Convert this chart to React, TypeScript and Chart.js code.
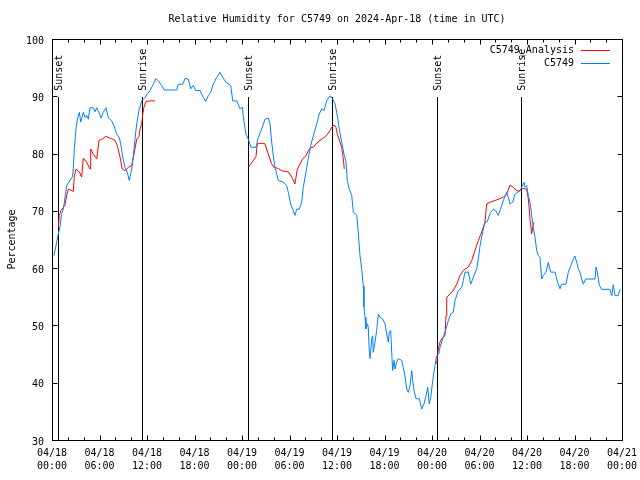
import { useEffect, useRef } from 'react';
import { Chart, registerables } from 'chart.js';

Chart.register(...registerables);

const FONT = '"DejaVu Sans Mono", "Liberation Mono", monospace';
const TITLE = 'Relative Humidity for C5749 on 2024-Apr-18 (time in UTC)';
const Y_LABEL = 'Percentage';
const ANA_NAME = 'C5749_Analysis';
const OBS_NAME = 'C5749';

const TICK_DATES = ['04/18', '04/18', '04/18', '04/18', '04/19', '04/19', '04/19', '04/19', '04/20', '04/20', '04/20', '04/20', '04/21'];
const TICK_TIMES = ['00:00', '06:00', '12:00', '18:00', '00:00', '06:00', '12:00', '18:00', '00:00', '06:00', '12:00', '18:00', '00:00'];

const SUN_HOURS = [0.8, 11.41, 24.8, 35.41, 48.67, 59.28];
const SUN_LABELS = ['Sunset', 'Sunrise', 'Sunset', 'Sunrise', 'Sunset', 'Sunrise'];
const SUN_LINE_TOP = 89.9;

// hours since 04/18 00:00 UTC
const OBS_HOURS = [
  0.25, 0.5, 0.8, 1.0, 1.23, 1.43, 1.86, 2.27, 2.56, 2.69, 2.82, 3.03, 3.2, 3.45, 3.63, 3.95, 4.17, 4.38, 4.59, 4.8,
  5.22, 5.43, 5.65, 5.9, 6.19, 6.48, 6.82, 7.11, 7.54, 7.83, 8.17, 8.5, 8.68, 8.93, 9.22, 9.51, 9.76, 10.07, 10.27, 10.48,
  10.7, 10.99, 11.33, 11.75, 12.04, 12.38, 12.8, 13.14, 13.43, 13.86, 14.15, 15.75, 15.95, 16.51, 16.8, 17.22, 17.52, 17.85, 18.15, 18.69,
  19.11, 19.42, 19.74, 20.05, 20.37, 20.8, 21.22, 21.56, 21.98, 22.57, 22.83, 23.33, 23.75, 24.04, 24.25, 24.5, 24.8, 25.14, 25.77, 26.06,
  26.49, 26.91, 27.32, 27.54, 27.75, 27.95, 28.17, 28.59, 29.22, 29.65, 29.85, 30.15, 30.48, 30.69, 30.91, 31.24, 31.54, 31.74, 32.08, 32.37,
  32.68, 33.01, 33.44, 33.76, 34.07, 34.36, 34.7, 35.12, 35.46, 35.75, 36.04, 36.29, 36.59, 36.88, 37.14, 37.3, 37.55, 37.86, 38.06, 38.49,
  38.69, 38.9, 39.12, 39.32, 39.41, 39.54, 39.66, 39.83, 39.95, 40.08, 40.17, 40.38, 40.51, 40.58, 40.8, 41.01, 41.22, 41.43, 41.77, 42.06,
  42.28, 42.48, 42.6, 42.78, 42.91, 43.03, 43.2, 43.33, 43.54, 43.74, 44.17, 44.37, 44.59, 44.8, 45.01, 45.22, 45.44, 45.56, 45.73, 45.98,
  46.4, 46.7, 46.99, 47.24, 47.46, 47.66, 47.84, 48.09, 48.38, 48.59, 48.85, 49.01, 49.43, 49.77, 50.06, 50.36, 50.69, 50.9, 51.32, 51.75,
  51.95, 52.17, 52.59, 52.89, 53.22, 53.65, 53.85, 54.07, 54.4, 54.69, 54.98, 55.32, 55.74, 56.08, 56.37, 56.8, 57.09, 57.43, 57.63, 57.85,
  58.19, 58.48, 58.77, 59.12, 59.33, 59.62, 59.75, 59.96, 60.17, 60.38, 60.59, 60.8, 61.01, 61.22, 61.43, 61.64, 61.86, 62.06, 62.4, 62.69,
  62.82, 62.99, 63.54, 63.75, 63.95, 64.17, 64.38, 64.93, 65.22, 65.52, 65.85, 66.06, 66.28, 66.48, 66.69, 66.91, 67.11, 67.41, 68.59, 68.72,
  68.88, 69.13, 69.43, 70.48, 70.7, 70.9, 71.12, 71.54, 71.75,
];
const OBS_VALUES = [
  62.2, 63.9, 66, 67.2, 69.5, 70.3, 74.4, 75.3, 75.9, 77.3, 80.8, 84.3, 86, 87.2, 85.5, 87.2, 86.3, 86.7, 86, 88,
  88, 87.3, 88, 87.3, 86.2, 87.2, 88, 86.3, 85.7, 84.9, 83.4, 82.8, 81.7, 79.4, 77.6, 76.7, 75.3, 77.3, 79.6, 82.5,
  85.2, 87.5, 89.2, 89.8, 90.4, 91, 92.1, 93.1, 92.7, 91.9, 91.1, 91.1, 92.1, 92.1, 93.1, 93, 91.3, 91.9, 91, 91,
  89.8, 89.1, 90.1, 90.7, 92.1, 93.3, 94.2, 93.3, 92.4, 91.9, 89.2, 89.2, 87.8, 88.1, 85.5, 83.4, 82.5, 81.1, 81.1, 82.8,
  84.3, 86, 86.2, 85.2, 82, 79.6, 77.6, 75.3, 75, 74.4, 73.2, 71.2, 70, 69.2, 70.3, 70.3, 71.5, 74.1, 76.7, 79.1,
  81.4, 83.1, 85.2, 86.9, 87.8, 87.5, 89.2, 90.1, 89.5, 88.7, 86.6, 84.3, 82, 79.9, 78.5, 75.3, 73.8, 72.7, 69.8, 69.2,
  66.3, 62.2, 59.9, 56.9, 53.2, 51.4, 49.4, 50.3, 49.7, 45.3, 44.2, 47.6, 48.2, 45.3, 47.1, 49.1, 52, 51.4, 51.1, 50.3,
  48.5, 47.1, 48.8, 49.1, 45.3, 42.1, 43.9, 42.4, 43.6, 44.2, 43.9, 42.7, 41.2, 38.9, 38.3, 39.5, 42.1, 40.4, 38.6, 37.2,
  37.2, 35.4, 36.3, 37.7, 39.2, 36.3, 37.4, 40.4, 43, 44.7, 45, 46.2, 48, 49.4, 50.8, 52, 52.3, 54.3, 56.1, 56.6,
  57.8, 59.3, 59.3, 57.2, 58.4, 59.9, 61.6, 63.9, 66.3, 68, 68.1, 69.5, 70.3, 70, 69.2, 70.9, 72.1, 73.2, 72.4, 71.2,
  71.5, 72.9, 73.2, 73.5, 74.1, 75, 74.1, 74.4, 72.7, 71.5, 69.2, 67.1, 65.4, 63.1, 62.2, 61.9, 58.1, 58.7, 59.3, 61,
  60.2, 59.3, 59.3, 58.1, 57.2, 56.4, 57.2, 57.2, 59.3, 60.4, 61.6, 62.1, 61, 59.9, 59.3, 58.1, 57.2, 58.1, 58.1, 60.2,
  59.3, 57, 56.3, 56.3, 55.2, 57.1, 55.2, 55.2, 56.3,
];

// null marks a gap in the analysis series
const ANA_HOURS = [
  0.8, 0.92, 1.1, 1.43, 1.64, 1.86, 2.06, 2.69, 2.82, 3.03, 3.45, 3.75, 3.95, 4.38, 4.8, 4.89, 5.22, 5.65, 5.94, 6.28,
  6.82, 7.33, 7.96, 8.25, 8.59, 8.88, 9.22, 9.64, 10.07, 10.36, 10.7, 10.99, 11.12, 11.33, 11.46, 11.62, 11.87, 12.38, 13.01, 18.0,
  24.8, 25.43, 25.77, 25.93, 26.49, 26.91, 27.32, 27.75, 28.04, 28.59, 29.01, 29.85, 30.28, 30.69, 30.99, 31.33, 31.67, 32.08, 32.37, 32.68,
  33.01, 33.35, 33.85, 34.27, 34.7, 35.12, 35.33, 35.62, 35.87, 36.04, 36.38, 36.59, 36.8, 36.92, 42.0,
  48.59, 48.8, 49.01, 49.35, 49.64, 49.77, 49.86, 50.27, 50.69, 51.12, 51.54, 51.95, 52.59, 53.01, 53.43, 53.85, 54.28, 54.69, 54.91, 55.32,
  55.96, 57.01, 57.43, 57.85, 58.27, 58.69, 59.02, 59.33, 59.96, 60.17, 60.38, 60.59, 60.8, 60.92,
];
const ANA_VALUES = [
  67.1, 69.2, 70, 70.6, 71, 72.7, 73.8, 73.4, 76.1, 77.3, 76.8, 75.9, 79.2, 78.5, 77.3, 80.8, 79.9, 79.1, 82.3, 82.5,
  83, 82.7, 82.3, 81.4, 79.4, 77.3, 77, 77.6, 77.9, 79.9, 82.5, 83, 84.3, 85.2, 86.9, 88.1, 89.1, 89.2, 89.2, null,
  77.6, 78.8, 79.5, 81.7, 81.8, 81.7, 79.9, 78.2, 77.6, 77.4, 77, 76.8, 75.9, 74.7, 77.3, 78.2, 79.1, 79.6, 80.5, 81.1,
  81.1, 81.7, 82.3, 82.7, 83.2, 84, 84.6, 85, 84.6, 83.4, 82, 81.1, 79.1, 77.3, null,
  43.3, 45.9, 47.1, 47.9, 48.2, 51.7, 54.9, 55.5, 56.1, 57.2, 58.7, 59.6, 60.2, 61.3, 63.1, 64.8, 66.3, 68, 71.2, 71.5,
  71.8, 72.4, 72.9, 74.5, 74.1, 73.5, 73.5, 73.9, 73.8, 72.1, 68.6, 66, 67.7, 68,
];

const RED = '#ff0000';
const BLUE = 'rgb(0,128,255)';

const gnuplotDecor = {
  id: 'gnuplotDecor',
  beforeDatasetsDraw(chart: any) {
    const { ctx, chartArea } = chart;
    const xs = chart.scales.x;
    const ys = chart.scales.y;
    ctx.save();
    ctx.strokeStyle = '#000';
    ctx.lineWidth = 1;
    const top = ys.getPixelForValue(SUN_LINE_TOP);
    const bottom = Math.round(chartArea.bottom);
    SUN_HOURS.forEach((h, i) => {
      const x = Math.round(xs.getPixelForValue(h)) + 0.5;
      ctx.beginPath();
      ctx.moveTo(x, Math.round(top));
      ctx.lineTo(x, bottom);
      ctx.stroke();
      ctx.save();
      ctx.translate(x + 1, top - 6);
      ctx.rotate(-Math.PI / 2);
      ctx.font = `10px ${FONT}`;
      ctx.fillStyle = '#000';
      ctx.textAlign = 'left';
      ctx.textBaseline = 'middle';
      ctx.fillText(SUN_LABELS[i], 0, 0);
      ctx.restore();
    });
    ctx.restore();
  },
  afterDraw(chart: any) {
    const { ctx, chartArea } = chart;
    const xs = chart.scales.x;
    const ys = chart.scales.y;
    const L = Math.floor(chartArea.left) + 0.5;
    const R = Math.floor(chartArea.right) + 0.5;
    const T = Math.floor(chartArea.top) + 0.5;
    const B = Math.floor(chartArea.bottom) + 0.5;
    ctx.save();
    ctx.strokeStyle = '#000';
    ctx.lineWidth = 1;
    ctx.strokeRect(L, T, R - L, B - T);
    ctx.beginPath();
    for (let h = 0; h <= 72; h += 2) {
      const x = Math.round(xs.getPixelForValue(h)) + 0.5;
      const len = h % 6 === 0 ? 5 : 3;
      ctx.moveTo(x, B);
      ctx.lineTo(x, B - len);
      ctx.moveTo(x, T);
      ctx.lineTo(x, T + len);
    }
    for (let v = 30; v <= 100; v += 10) {
      const y = Math.round(ys.getPixelForValue(v)) + 0.5;
      ctx.moveTo(L, y);
      ctx.lineTo(L + 5, y);
      ctx.moveTo(R, y);
      ctx.lineTo(R - 5, y);
    }
    ctx.stroke();

    ctx.fillStyle = '#000';
    ctx.font = `10px ${FONT}`;
    ctx.textAlign = 'center';
    ctx.textBaseline = 'middle';
    ctx.fillText(TITLE, (chartArea.left + chartArea.right) / 2, 19);

    ctx.save();
    ctx.translate(12, (chartArea.top + chartArea.bottom) / 2);
    ctx.rotate(-Math.PI / 2);
    ctx.fillText(Y_LABEL, 0, 0);
    ctx.restore();

    ctx.textAlign = 'right';
    ctx.fillText(ANA_NAME, 574, 50);
    ctx.fillText(OBS_NAME, 574, 63);
    ctx.lineWidth = 1;
    ctx.strokeStyle = RED;
    ctx.beginPath();
    ctx.moveTo(581, 50.5);
    ctx.lineTo(610, 50.5);
    ctx.stroke();
    ctx.strokeStyle = BLUE;
    ctx.beginPath();
    ctx.moveTo(581, 63.5);
    ctx.lineTo(610, 63.5);
    ctx.stroke();
    ctx.restore();
  },
};

export default function App() {
  const ref = useRef<HTMLCanvasElement | null>(null);
  useEffect(() => {
    if (!ref.current) return;
    const obs = OBS_HOURS.map((h, i) => ({ x: h, y: OBS_VALUES[i] }));
    const ana = ANA_HOURS.map((h, i) => ({ x: h, y: ANA_VALUES[i] }));
    const chart = new Chart(ref.current, {
      type: 'line',
      data: {
        datasets: [
          {
            label: OBS_NAME,
            data: obs,
            borderColor: BLUE,
            borderWidth: 1,
            pointRadius: 0,
            tension: 0,
            fill: false,
          },
          {
            label: ANA_NAME,
            data: ana as any,
            borderColor: RED,
            borderWidth: 1,
            pointRadius: 0,
            tension: 0,
            fill: false,
            spanGaps: false,
          },
        ],
      },
      options: {
        animation: false,
        responsive: false,
        events: [],
        layout: { padding: { top: 39, right: 18, left: 0, bottom: 0 } },
        plugins: {
          legend: { display: false },
          title: { display: false },
          tooltip: { enabled: false },
        },
        scales: {
          x: {
            type: 'linear',
            min: 0,
            max: 72,
            grid: { display: false, drawTicks: false },
            border: { display: false },
            afterFit: (s: any) => {
              s.height = 40;
              s.paddingLeft = 0;
              s.paddingRight = 0;
            },
            ticks: {
              stepSize: 6,
              autoSkip: false,
              maxRotation: 0,
              minRotation: 0,
              padding: 7,
              color: '#000',
              font: { family: FONT, size: 10, lineHeight: 1.3 },
              callback: (v: any) => {
                const i = Math.round(Number(v) / 6);
                return [TICK_DATES[i], TICK_TIMES[i]];
              },
            },
          },
          y: {
            min: 30,
            max: 100,
            grid: { display: false, drawTicks: false },
            border: { display: false },
            afterFit: (s: any) => {
              s.width = 52;
            },
            ticks: {
              stepSize: 10,
              padding: 8,
              labelOffset: 2,
              color: '#000',
              font: { family: FONT, size: 10 },
            },
          },
        },
      },
      plugins: [gnuplotDecor],
    });
    return () => chart.destroy();
  }, []);
  return (
    <div style={{ position: 'absolute', left: 0, top: 0, width: 640, height: 480, background: '#fff' }}>
      <canvas ref={ref} width={640} height={480} style={{ display: 'block' }} />
    </div>
  );
}
